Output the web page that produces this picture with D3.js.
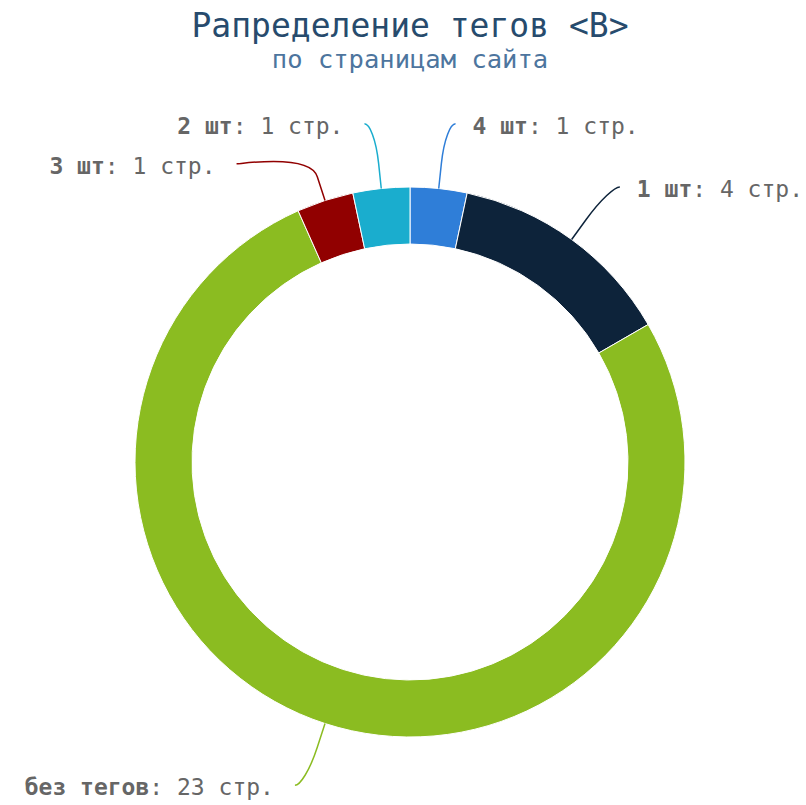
<!DOCTYPE html>
<html><head><meta charset="utf-8">
<script src="https://cdn.jsdelivr.net/npm/d3@7"></script>
<style>html,body{margin:0;padding:0;background:#fff;}</style>
</head><body>
<svg id="chart" width="806" height="805"></svg>
<script>
const titleText = 'Рапределение тегов <B>';
const subtitleText = 'по страницам сайта';
const categories = ['4 шт', '1 шт', 'без тегов', '3 шт', '2 шт'];
const values = [1, 4, 23, 1, 1];
const colors = ['#2f7ed8', '#0d233a', '#8bbc21', '#910000', '#1aadce'];
const unitLabel = 'стр.';

const W = 806, H = 805;
const cx = 410, cy = 462, outerR = 275, innerR = 218;
const labelDist = 65, connOffset = 25, minGap = 40;
const font = "'DejaVu Sans Mono', monospace";

const svg = d3.select('#chart');

svg.append('text').attr('x', cx).attr('y', 37).attr('text-anchor', 'middle')
  .style('font-family', font).style('font-size', '33px').style('fill', '#274b6d')
  .text(titleText);
svg.append('text').attr('x', cx).attr('y', 68).attr('text-anchor', 'middle')
  .style('font-family', font).style('font-size', '25.5px').style('fill', '#4d759e')
  .text(subtitleText);

const data = categories.map((c, i) => ({ cat: c, value: values[i], color: colors[i] }));
const pie = d3.pie().sort(null).value(d => d.value);
const arcs = pie(data);
const arc = d3.arc().innerRadius(innerR).outerRadius(outerR);

const g = svg.append('g').attr('transform', `translate(${cx},${cy})`);
g.selectAll('path.slice').data(arcs).join('path')
  .attr('class', 'slice')
  .attr('d', arc)
  .attr('fill', d => d.data.color)
  .attr('stroke', '#ffffff').attr('stroke-width', 1);

// label layout (Highcharts-like)
const R = outerR + labelDist;
const labels = arcs.map(a => {
  const mid = (a.startAngle + a.endAngle) / 2;
  const left = mid > Math.PI;
  return { a, mid, left, y: -R * Math.cos(mid) };
});
[true, false].forEach(side => {
  const group = labels.filter(l => l.left === side).sort((p, q) => p.y - q.y);
  for (let i = 1; i < group.length; i++) {
    if (group[i].y < group[i - 1].y + minGap) group[i].y = group[i - 1].y + minGap;
  }
});
labels.forEach(l => {
  const dy = Math.max(-R, Math.min(R, l.y));
  const dx = Math.sqrt(R * R - dy * dy);
  const s = l.left ? -1 : 1;
  l.x = s * dx + s * 5;
  l.endX = l.x + s * 5;
  const ex = outerR * Math.sin(l.mid), ey = -outerR * Math.cos(l.mid);
  const bx = (outerR + connOffset) * Math.sin(l.mid), by = -(outerR + connOffset) * Math.cos(l.mid);
  l.path = `M${l.endX},${l.y}C${l.x},${l.y} ${2 * bx - ex},${2 * by - ey} ${bx},${by}L${ex},${ey}`;
  l.textX = l.endX + s * (l.left ? 21 : 17);
});

g.selectAll('path.conn').data(labels).join('path')
  .attr('class', 'conn')
  .attr('d', l => l.path)
  .attr('fill', 'none')
  .attr('stroke', l => l.a.data.color)
  .attr('stroke-width', 1.5);

const t = g.selectAll('text.lbl').data(labels).join('text')
  .attr('class', 'lbl')
  .attr('x', l => l.textX)
  .attr('y', l => l.y + 10)
  .attr('text-anchor', l => l.left ? 'end' : 'start')
  .style('font-family', font).style('font-size', '23px').style('fill', '#666666');
t.append('tspan').style('font-weight', 'bold').text(l => l.a.data.cat);
t.append('tspan').text(l => `: ${l.a.data.value} ${unitLabel}`);
</script>
</body></html>
